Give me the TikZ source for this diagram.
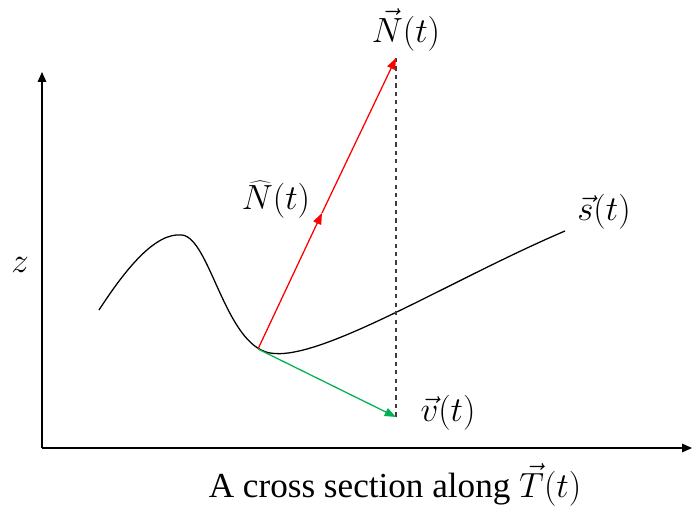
\documentclass[tikz,border=0pt]{standalone}
\usepackage{fontspec}
\setmainfont{Liberation Serif}
\usepackage{tikz}
\usetikzlibrary{arrows.meta}
\definecolor{vecred}{RGB}{255, 0, 0}
\definecolor{vecgreen}{RGB}{0, 176, 80}
\definecolor{guidegrey}{RGB}{60, 60, 60}

\begin{document}
\begin{tikzpicture}[
  x=0.025cm, y=-0.025cm,
  axis/.style={-{Triangle[length=7pt, width=6pt]}, line width=1.1pt, color=black},
  redvec/.style={-{Triangle[length=8pt, width=6pt]}, color=vecred, line width=0.9pt},
  greenvec/.style={-{Triangle[length=8pt, width=6pt]}, color=vecgreen, line width=0.9pt},
  guide/.style={dashed, color=guidegrey, line width=0.8pt},
  lbl/.style={font=\fontsize{25}{30}\selectfont, inner sep=0pt}
]
\useasboundingbox (0,0) rectangle (693,506);

\coordinate (origin) at (42,448);
\coordinate (zend) at (42,72);
\coordinate (xend) at (692,448);
\coordinate (P) at (258,349);
\coordinate (Nhat) at (322,213);
\coordinate (Ntip) at (396,58);
\coordinate (vtip) at (396,417);

\draw[axis] (origin) -- (zend);
\draw[axis] (origin) -- (xend);

% the curve s(t)
\draw[line width=0.9pt] (99,310) .. controls (125,270) and (155,232) .. (182,235)
  .. controls (210,238) and (225,345) .. (270,353)
  .. controls (320,362) and (450,280) .. (565,231);

\draw[guide] (Ntip) -- (vtip);
\draw[redvec] (P) -- (Nhat);
\draw[redvec] (Nhat) -- (Ntip);
\draw[greenvec] (P) -- (vtip);

\node[lbl] (Nlab) at (406,30) {$\vec{N}(t)$};
\node[lbl] (Nhatlab) at (276,200) {$\widehat{N}(t)$};
\node[lbl] (slab) at (604,212) {$\vec{s}(t)$};
\node[lbl] (vlab) at (448,413) {$\vec{v}(t)$};
\node[lbl] (zlab) at (20,265) {$z$};
\node[lbl] (caption) at (395,485) {A cross section along $\vec{T}(t)$};
\end{tikzpicture}
\end{document}
